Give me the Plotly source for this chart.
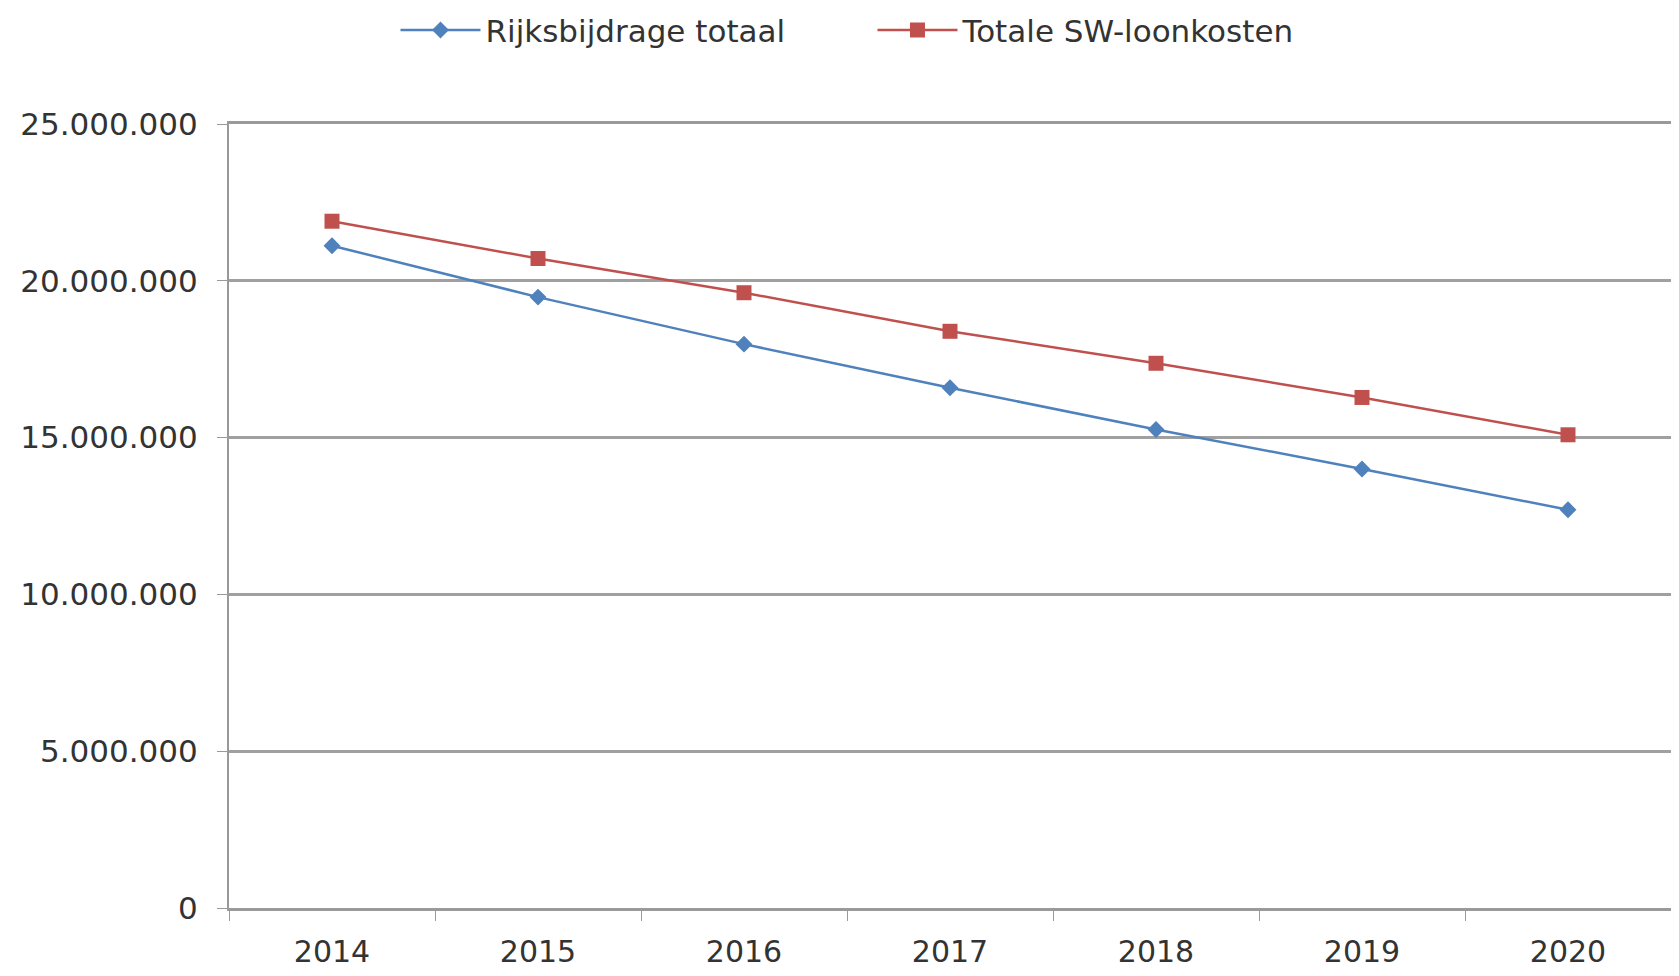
import plotly.graph_objects as go

# jaren en bedragen
jaren = ['2014', '2015', '2016', '2017', '2018', '2019', '2020']
rijksbijdrage = [21120000, 19480000, 17980000, 16590000, 15260000, 14000000, 12700000]
loonkosten = [21900000, 20710000, 19620000, 18390000, 17370000, 16280000, 15090000]

fig = go.Figure()

fig.add_trace(go.Scatter(
    x=jaren, y=rijksbijdrage, name='Rijksbijdrage totaal',
    mode='lines+markers',
    line=dict(color='#4F81BD', width=2.5),
    marker=dict(symbol='diamond', size=13, color='#4F81BD')
))

fig.add_trace(go.Scatter(
    x=jaren, y=loonkosten, name='Totale SW-loonkosten',
    mode='lines+markers',
    line=dict(color='#C0504D', width=2.5),
    marker=dict(symbol='square', size=15, color='#C0504D')
))

# figuur iets kleiner dan het venster, zodat de body-marge (8px) niet tot scrollen leidt
fig.update_layout(
    width=1663, height=960,
    margin=dict(l=221, r=0, t=116, b=60, autoexpand=False),
    paper_bgcolor='white', plot_bgcolor='white',
    separators=',.',
    font=dict(family='DejaVu Sans', size=31, color='#333333'),
    legend=dict(orientation='h', xref='container', yref='container',
                x=0.233, xanchor='left', y=0.9767, yanchor='middle',
                font=dict(size=31), itemwidth=80, entrywidth=382),
)

fig.update_xaxes(
    type='category', tickson='boundaries', ticks='outside', ticklen=10,
    tickcolor='#999999', showgrid=False, showline=True, linecolor='#9a9a9a',
    linewidth=3, mirror=True, ticklabelstandoff=15, range=[-0.5, 6.5],
    tickfont=dict(size=30), automargin=False
)

fig.update_yaxes(
    range=[0, 25000000], dtick=5000000, tickformat=',d',
    showgrid=True, gridcolor='#a0a0a0', gridwidth=3,
    showline=True, linecolor='#999999', linewidth=2,
    ticks='outside', ticklen=10, tickcolor='#999999', zeroline=False,
    ticklabelstandoff=13, automargin=False
)

fig.write_html("out.html")
